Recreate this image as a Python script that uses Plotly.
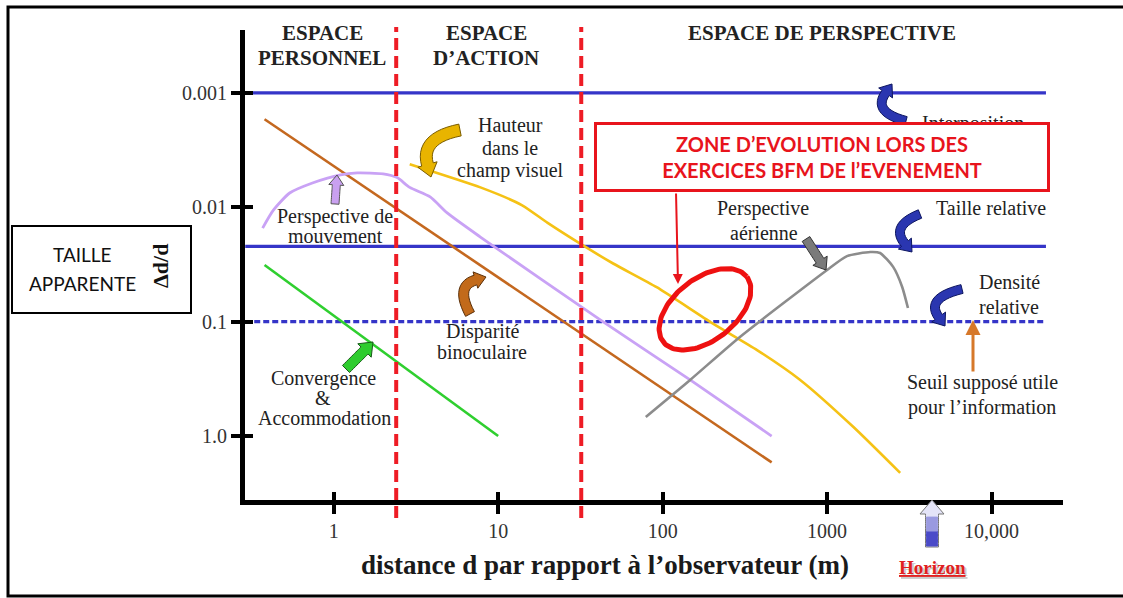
import numpy as np
import plotly.graph_objects as go

# ---------------- canvas / layout constants ----------------
W, H = 1123, 598
PW, PH = 818, 470                 # plot area size
REF_L, REF_B = 245, 500           # plot area left / bottom in the reference picture
ML = REF_L
MT = REF_B - PH
MR = W - ML - PW
MB = H - MT - PH
X_RANGE_LOG = [-0.539, 4.434]
Y_RANGE_LOG = [0.559, -3.55]          # reversed log axis (0.001 on top)
PX_DEC_X = PW / (X_RANGE_LOG[1] - X_RANGE_LOG[0])
PX_DEC_Y = PH / (Y_RANGE_LOG[0] - Y_RANGE_LOG[1])

# ---------------- data ----------------
x_tick_vals = [1, 10, 100, 1000, 10000]
x_tick_text = ["1", "10", "100", "1000", "10,000"]
y_tick_vals = [0.001, 0.01, 0.1, 1.0]
y_tick_text = ["0.001", "0.01", "0.1", "1.0"]

zone_limits = [2.4, 32]                       # m : personnel | action | perspective
hline_x = [0.29, 21400]
interposition_y = 0.001
taille_relative_y = 0.022
densite_relative_y = 0.1

convergence_x = [0.38, 10]
convergence_y = [0.032, 1.0]

disparite_x = [0.38, 460]
disparite_y = [0.0017, 1.7]

mouvement_x = [0.37, 0.43, 0.54, 0.75, 1.1, 1.39, 2.0, 2.43, 2.9, 3.86, 4.9, 7.8, 42, 147, 460]
mouvement_y = [0.0152, 0.0106, 0.0075, 0.0061, 0.0052, 0.0050, 0.0051, 0.0055, 0.0067,
               0.0081, 0.0112, 0.0182, 0.097, 0.323, 1.0]

hauteur_x = [2.9, 7.8, 14, 20, 31, 50, 92, 200, 375, 680, 1440, 2780]
hauteur_y = [0.0042, 0.0067, 0.0096, 0.0137, 0.0205, 0.031, 0.05, 0.103, 0.177, 0.32, 0.83, 2.1]

aerienne_x = [79, 147, 295, 1000, 1320, 1830, 2100, 2520, 2860, 3100]
aerienne_y = [0.68, 0.323, 0.136, 0.0353, 0.0267, 0.0246, 0.0251, 0.0332, 0.0497, 0.076]

zone_center = (181, 0.078)     # centre of the highlighted zone (m, Δd/d)

# ---------------- helpers ----------------
def P(px, py):
    """reference-picture pixel -> paper coordinates"""
    return (px - REF_L) / PW, (REF_B - py) / PH


SERIF = "Liberation Serif"
SANS = "Lato"
TXT = "#222222"

fig = go.Figure()

def line(x, y, color, width=2.6, shape="linear", dash=None):
    fig.add_trace(go.Scatter(x=x, y=y, mode="lines",
                             line=dict(color=color, width=width, shape=shape, dash=dash,
                                       smoothing=0.6 if shape == "spline" else None),
                             hoverinfo="skip", showlegend=False))

# horizontal reference lines
line(hline_x, [interposition_y] * 2, "#3535c8", 3.2)
line(hline_x, [taille_relative_y] * 2, "#3535c8", 3.2)
line(hline_x, [densite_relative_y] * 2, "#3535c8", 3.2, dash="6px,3px")

# cue curves
line(convergence_x, convergence_y, "#2fcf2f", 2.6)
line(disparite_x, disparite_y, "#c4681f", 2.6)
line(mouvement_x, mouvement_y, "#c9a2f5", 2.8, shape="spline")
line(hauteur_x, hauteur_y, "#f5c215", 2.6, shape="spline")
line(aerienne_x, aerienne_y, "#8c8c8c", 2.6, shape="spline")

# highlighted zone (tilted ellipse, radii in pixels)
a_px, b_px, theta = 53, 31, np.deg2rad(38)
t = np.linspace(0, 2 * np.pi, 120)
dx = a_px * np.cos(t) * np.cos(theta) - b_px * np.sin(t) * np.sin(theta)
dy = a_px * np.cos(t) * np.sin(theta) + b_px * np.sin(t) * np.cos(theta)
ex = 10 ** (np.log10(zone_center[0]) + dx / PX_DEC_X)
ey = 10 ** (np.log10(zone_center[1]) - dy / PX_DEC_Y)
fig.add_trace(go.Scatter(x=ex, y=ey, mode="lines", line=dict(color="#ee1111", width=5),
                         hoverinfo="skip", showlegend=False))

# invisible trace for overlay axes (inside tick marks)
fig.add_trace(go.Scatter(x=[1], y=[0.1], xaxis="x2", yaxis="y2", mode="markers",
                         marker=dict(opacity=0), hoverinfo="skip", showlegend=False))

shapes = []
# zone boundaries (red dashed)
for xv in zone_limits:
    shapes.append(dict(type="line", xref="x", yref="paper", x0=xv, x1=xv,
                       y0=P(0, 518)[1], y1=P(0, 27)[1],
                       line=dict(color="#ee1c25", width=4, dash="12px,6px"), layer="above"))

# outer frame (open on the right, as in the reference)
fx0, fy0 = P(8, 596); fx1, fy1 = P(1140, 7)
shapes.append(dict(type="path", xref="paper", yref="paper",
                   path="M %.5f,%.5f L %.5f,%.5f L %.5f,%.5f L %.5f,%.5f" %
                        (fx1, fy1, fx0, fy1, fx0, fy0, fx1, fy0),
                   line=dict(color="black", width=3)))
# TAILLE APPARENTE box
x0, y0 = P(12, 313); x1, y1 = P(191, 226)
shapes.append(dict(type="rect", xref="paper", yref="paper", x0=x0, y0=y0, x1=x1, y1=y1,
                   line=dict(color="black", width=2), fillcolor="white"))


def block_arrow(tail, head, shaft=9, headw=17, headlen=11, fill="#2433a8", edge="#101860", ctrl=None):
    tail = np.array(tail, float); head = np.array(head, float)
    if ctrl is None:
        ctrl = (tail + head) / 2
    ctrl = np.array(ctrl, float)
    d_end = head - ctrl; d_end /= np.linalg.norm(d_end)
    neck = head - d_end * headlen
    ts = np.linspace(0, 1, 14)
    pts = [(1 - s) ** 2 * tail + 2 * (1 - s) * s * ctrl + s ** 2 * neck for s in ts]
    tans = [2 * (1 - s) * (ctrl - tail) + 2 * s * (neck - ctrl) for s in ts]
    left, right = [], []
    for p, tg in zip(pts, tans):
        tg = tg / np.linalg.norm(tg)
        n = np.array([-tg[1], tg[0]])
        left.append(p + n * shaft / 2); right.append(p - n * shaft / 2)
    n = np.array([-d_end[1], d_end[0]])
    poly = left + [neck + n * headw / 2, head, neck - n * headw / 2] + right[::-1]
    path = "M " + " L ".join("%.5f,%.5f" % P(*q) for q in poly) + " Z"
    return dict(type="path", xref="paper", yref="paper", path=path, fillcolor=fill,
                line=dict(color=edge, width=1), layer="above")

BLUE_F, BLUE_E = "#2a36b0", "#0d1660"
shapes += [
    block_arrow((906, 121), (892, 84), ctrl=(872, 112), fill=BLUE_F, edge=BLUE_E),
    block_arrow((920, 214), (912, 252), ctrl=(890, 226), fill=BLUE_F, edge=BLUE_E),
    block_arrow((962, 289), (945, 326), ctrl=(925, 298), fill=BLUE_F, edge=BLUE_E),
    block_arrow((460, 130), (431, 177), shaft=12, headw=20, headlen=13, ctrl=(420, 138),
                fill="#e8b400", edge="#7a5c00"),
    block_arrow((470, 314), (486, 277), shaft=10, headw=17, headlen=11, ctrl=(455, 286),
                fill="#c26a1a", edge="#5a2f08"),
    block_arrow((335, 204), (337, 175), shaft=8, headw=15, headlen=10, fill="#c9a0f0", edge="#555555"),
    block_arrow((346, 369), (373, 342), shaft=10, headw=19, headlen=12, fill="#2ecc2e", edge="#1a5a1a"),
    block_arrow((806, 239), (826, 270), shaft=9, headw=17, headlen=11, fill="#7a7a7a", edge="#333333"),
    block_arrow((932, 547), (932, 500), shaft=13, headw=24, headlen=14, fill="#e4e4f8", edge="#777777"),
    block_arrow((932, 546), (932, 530), shaft=11, headw=0.1, headlen=0.1, fill="#4a4ac8", edge="#4a4ac8"),
    block_arrow((932, 531), (932, 517), shaft=11, headw=0.1, headlen=0.1, fill="#9a9ae0", edge="#9a9ae0"),
]

annotations = []

def label(text, px, py, size=20, color=TXT, family=SERIF, bold=False, **kw):
    x, y = P(px, py)
    if bold:
        text = "<b>" + text + "</b>"
    annotations.append(dict(text=text, x=x, y=y, xref="paper", yref="paper", showarrow=False,
                            xanchor="center", yanchor="middle",
                            font=dict(family=family, size=size, color=color), **kw))

# zone headers
label("ESPACE", 322, 33, 21, bold=True)
label("PERSONNEL", 322, 58, 21, bold=True)
label("ESPACE", 486, 33, 21, bold=True)
label("D’ACTION", 486, 58, 21, bold=True)
label("ESPACE DE PERSPECTIVE", 822, 33, 21, bold=True)

# cue labels
label("Hauteur", 510, 125)
label("dans le", 510, 148)
label("champ visuel", 510, 170)
label("Perspective de", 335, 216)
label("mouvement", 335, 236)
label("Disparité", 482, 332)
label("binoculaire", 482, 352)
label("Convergence", 323, 378)
label("&", 323, 398)
label("Accommodation", 324, 418)
label("Interposition", 973, 124)
label("Taille relative", 991, 208)
label("Densité", 1009, 282)
label("relative", 1009, 307)
label("Perspective", 763, 208)
label("aérienne", 764, 233)
label("Seuil supposé utile", 982, 382)
label("pour l’information", 982, 407)

# axis titles
label("distance d par rapport à l’observateur (m)", 605, 565, 27, color="#1a1a1a", bold=True)
label("<u>Horizon</u>", 934, 569, 19, color="#cccccc", bold=True)
label("<u>Horizon</u>", 932, 567, 19, color="#e02020", bold=True)
label("TAILLE", 82, 255, 19, color="#111111", family=SANS)
label("APPARENTE", 82, 283, 19, color="#111111", family=SANS)
label("Δd/d", 160, 266, 22, color="#111111", bold=True, textangle=-90)

# red callout box (drawn after "Interposition" so it covers it)
bx, by = P(821.5, 156.5)
annotations.append(dict(text="<b>ZONE D’EVOLUTION LORS DES<br>EXERCICES BFM DE l’EVENEMENT</b>",
                        x=bx, y=by, xref="paper", yref="paper", showarrow=False,
                        xanchor="center", yanchor="middle", width=450, height=64,
                        bgcolor="white", bordercolor="#e8141c", borderwidth=3, borderpad=0,
                        font=dict(family=SANS, size=20, color="#e8141c")))
# red arrow from box to zone
hx, hy = P(678, 284)
annotations.append(dict(text="", x=hx, y=hy, xref="paper", yref="paper", showarrow=True,
                        ax=-2, ay=-92, arrowcolor="#e8141c", arrowwidth=2, arrowhead=2, arrowsize=1))
# orange threshold arrow
hx, hy = P(973, 320)
annotations.append(dict(text="", x=hx, y=hy, xref="paper", yref="paper", showarrow=True,
                        ax=0, ay=53, arrowcolor="#d6782a", arrowwidth=3, arrowhead=2, arrowsize=1))

tickfont = dict(family=SERIF, size=20, color="#333333")
fig.update_layout(
    width=W, height=H,
    margin=dict(l=ML, r=MR, t=MT, b=MB),
    paper_bgcolor="white", plot_bgcolor="white",
    showlegend=False,
    xaxis=dict(type="log", range=X_RANGE_LOG, showline=True, linewidth=5, linecolor="black",
               ticks="outside", ticklen=9, tickwidth=4, tickcolor="black",
               tickvals=x_tick_vals, ticktext=x_tick_text, tickfont=tickfont,
               showgrid=False, zeroline=False),
    yaxis=dict(type="log", range=Y_RANGE_LOG, showline=True, linewidth=5, linecolor="black",
               ticks="outside", ticklen=9, tickwidth=4, tickcolor="black",
               tickvals=y_tick_vals, ticktext=y_tick_text, tickfont=tickfont,
               showgrid=False, zeroline=False),
    xaxis2=dict(type="log", range=X_RANGE_LOG, overlaying="x", anchor="y2", side="bottom",
                ticks="inside", ticklen=8, tickwidth=4, tickcolor="black", tickvals=x_tick_vals,
                showticklabels=False, showgrid=False, zeroline=False, showline=False),
    yaxis2=dict(type="log", range=Y_RANGE_LOG, overlaying="y", anchor="x2", side="left",
                ticks="inside", ticklen=8, tickwidth=4, tickcolor="black", tickvals=y_tick_vals,
                showticklabels=False, showgrid=False, zeroline=False, showline=False),
    shapes=shapes,
    annotations=annotations,
)

fig.write_html("out.html", config={"displayModeBar": False},
               post_script="document.body.style.margin='0px';document.body.style.overflow='hidden';")
